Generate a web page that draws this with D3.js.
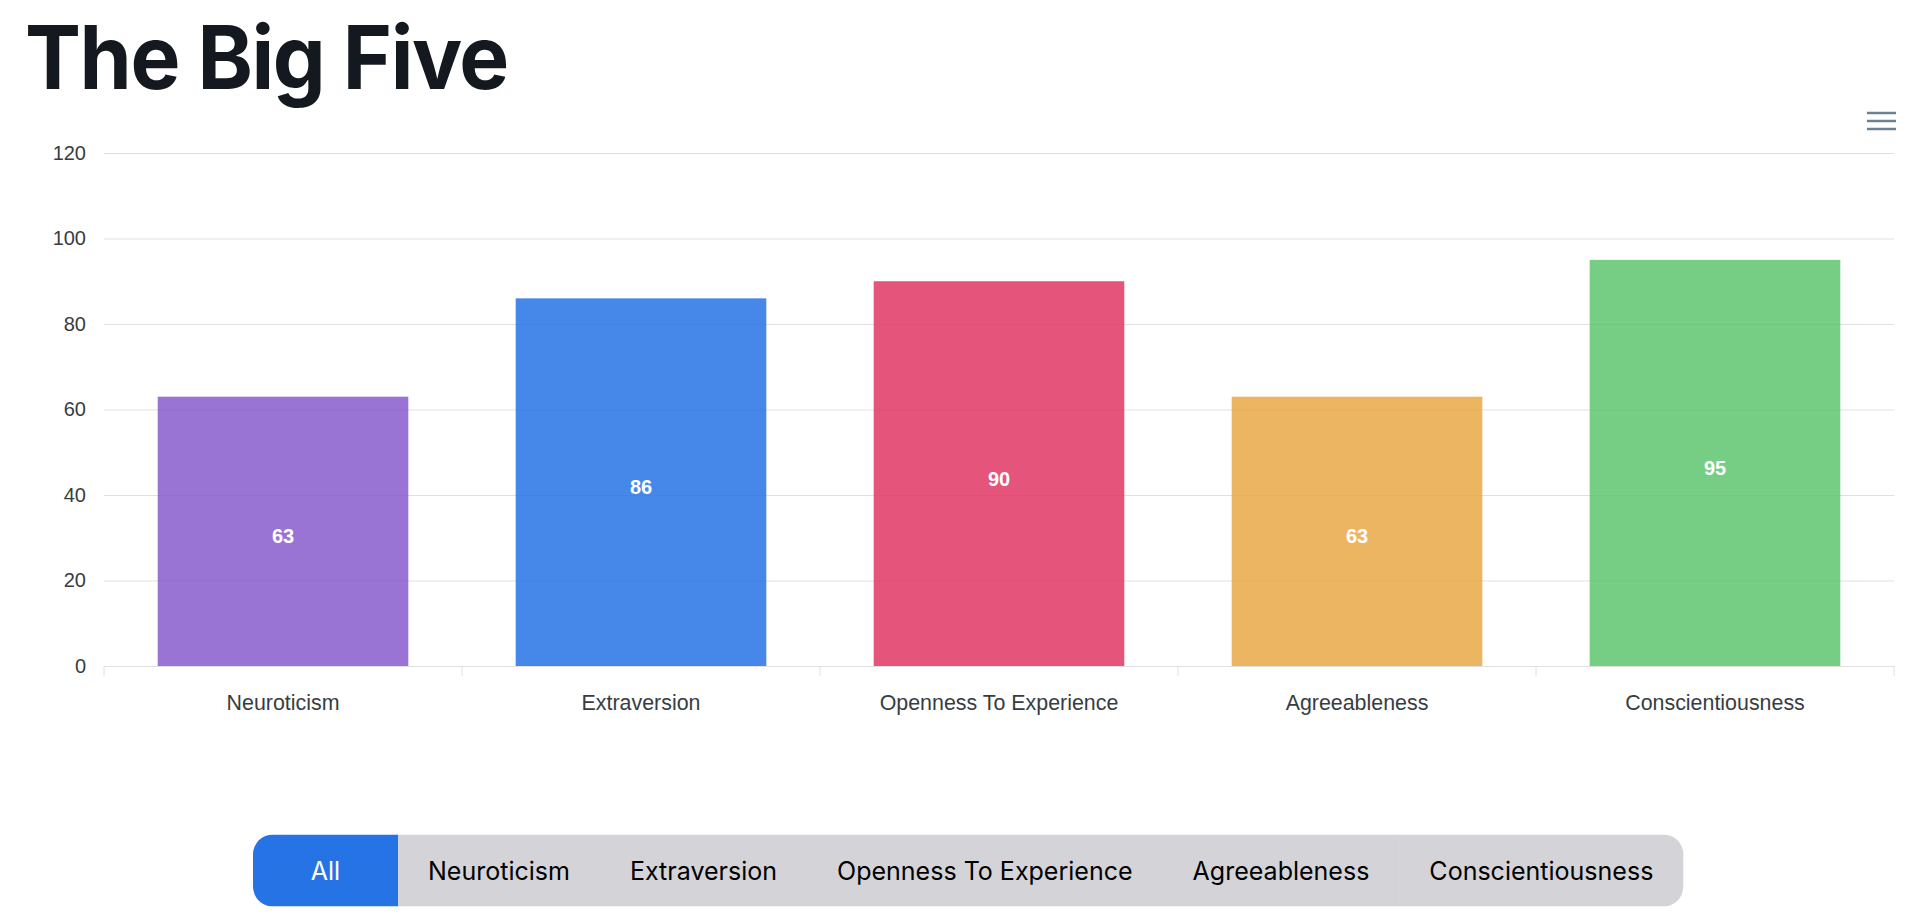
<!DOCTYPE html>
<html><head><meta charset="utf-8">
<script src="https://cdn.jsdelivr.net/npm/d3@7"></script>
<style>html,body{margin:0;padding:0;background:#fff;overflow:hidden}</style>
</head><body>
<svg id="chart" width="1920" height="918"></svg>
<script>
// ---- data ----
const titleText = "The Big Five";
const categories = ["Neuroticism", "Extraversion", "Openness To Experience", "Agreeableness", "Conscientiousness"];
const values = [63, 86, 90, 63, 95];
const barColors = ["#885CCC", "#2673E6", "#DF3664", "#E9A846", "#5EC56E"];
const yTicks = [0, 20, 40, 60, 80, 100, 120];
const buttonLabels = ["All", "Neuroticism", "Extraversion", "Openness To Experience", "Agreeableness", "Conscientiousness"];
const activeButton = "All";

(function () {
// ---- layout ----
const svg = d3.select("#chart");
const pLeft = 104, pRight = 1894, pTop = 153, pBottom = 666;
const axisFont = "'Liberation Sans', Arial, Helvetica, sans-serif";
const uiFont = "Inter, 'Noto Sans', sans-serif";

const x = d3.scaleBand().domain(categories).range([pLeft, pRight]).padding(0);
const y = d3.scaleLinear().domain([0, 120]).range([pBottom, pTop]);

// title (natural glyphs, horizontally condensed to the reference width)
const titleG = svg.append("g");
const title = titleG.append("text")
  .attr("x", 0).attr("y", 0)
  .attr("font-family", uiFont).attr("font-weight", 700)
  .attr("font-size", 88.5).attr("fill", "#14191F")
  .attr("letter-spacing", -1.5)
  .text(titleText);
{
  const bb = title.node().getBBox();
  const w = title.node().getComputedTextLength();
  const sx = 483 / w;
  titleG.attr("transform", `translate(25,88.5) scale(${sx},1)`);
}

// gridlines + y labels
const yAxis = svg.append("g").attr("transform", `translate(${pLeft},0)`)
  .call(d3.axisLeft(y).tickValues(yTicks).tickSize(-(pRight - pLeft)).tickPadding(18));
yAxis.select(".domain").remove();
yAxis.selectAll(".tick line").attr("stroke", "#e0e0e0").attr("stroke-width", 1);
yAxis.selectAll(".tick text").attr("font-family", axisFont).attr("font-size", 20)
  .attr("fill", "#373d3f");

// bars
svg.append("g").selectAll("rect").data(categories).join("rect")
  .attr("x", d => x(d) + x.bandwidth() * 0.15)
  .attr("width", x.bandwidth() * 0.7)
  .attr("y", (d, i) => y(values[i]))
  .attr("height", (d, i) => y(0) - y(values[i]))
  .attr("fill", (d, i) => barColors[i])
  .attr("fill-opacity", 0.85);

// data labels
svg.append("g").selectAll("text").data(categories).join("text")
  .attr("x", d => x(d) + x.bandwidth() / 2)
  .attr("y", (d, i) => (y(values[i]) + y(0)) / 2 + 5)
  .attr("dy", "0.35em")
  .attr("text-anchor", "middle")
  .attr("font-family", axisFont).attr("font-weight", 700).attr("font-size", 20)
  .attr("fill", "#fff")
  .text((d, i) => values[i]);

// x axis
const xAxis = svg.append("g").attr("transform", `translate(0,${pBottom})`)
  .call(d3.axisBottom(x).tickSize(0).tickPadding(37));
xAxis.select(".domain").attr("stroke", "#e0e0e0");
xAxis.selectAll(".tick text").attr("font-family", axisFont).attr("font-size", 21.4)
  .attr("fill", "#373d3f").attr("dy", "0.35em").attr("y", 37);
const boundaries = categories.map(c => x(c)).concat([x.range()[1]]);
xAxis.append("g").selectAll("line").data(boundaries).join("line")
  .attr("x1", d => d).attr("x2", d => d).attr("y1", 0).attr("y2", 10)
  .attr("stroke", "#e0e0e0");

// hamburger menu
svg.append("g").selectAll("line").data([0, 1, 2]).join("line")
  .attr("x1", 1867).attr("x2", 1896)
  .attr("y1", d => 113 + d * 8).attr("y2", d => 113 + d * 8)
  .attr("stroke", "#6E8192").attr("stroke-width", 2.5);

// buttons
const bg = svg.append("g");
const btnTop = 834.5, btnH = 72, btnLeft = 253, pad = 30;
const fontSize = (() => {
  const t = bg.append("text").attr("font-family", uiFont).attr("font-size", 25).text("Neuroticism");
  const w = t.node().getComputedTextLength(); t.remove();
  return 25 * 142 / w;
})();
let cx = btnLeft;
const segs = buttonLabels.map(lbl => {
  const t = bg.append("text").attr("font-family", uiFont).attr("font-size", fontSize).text(lbl);
  const w = t.node().getComputedTextLength(); t.remove();
  const sw = Math.max(145, w + 2 * pad);
  const s = {lbl, x0: cx, w: sw};
  cx += sw;
  return s;
});
const totalW = cx - btnLeft;
svg.append("defs").append("clipPath").attr("id", "btnclip").append("rect")
  .attr("x", btnLeft).attr("y", btnTop).attr("width", totalW).attr("height", btnH).attr("rx", 20);
const bgg = bg.append("g").attr("clip-path", "url(#btnclip)");
bgg.selectAll("rect").data(segs).join("rect")
  .attr("x", d => d.x0).attr("y", btnTop).attr("width", d => d.w + 0.5).attr("height", btnH)
  .attr("fill", d => d.lbl === activeButton ? "#2673E6" : "#D4D4D8");
bg.selectAll("text.btn").data(segs).join("text").attr("class", "btn")
  .attr("x", d => d.x0 + d.w / 2).attr("y", 880)
  .attr("text-anchor", "middle")
  .attr("font-family", uiFont).attr("font-size", fontSize)
  .attr("fill", d => d.lbl === activeButton ? "#fff" : "#000")
  .text(d => d.lbl);
})();
</script>
</body></html>
